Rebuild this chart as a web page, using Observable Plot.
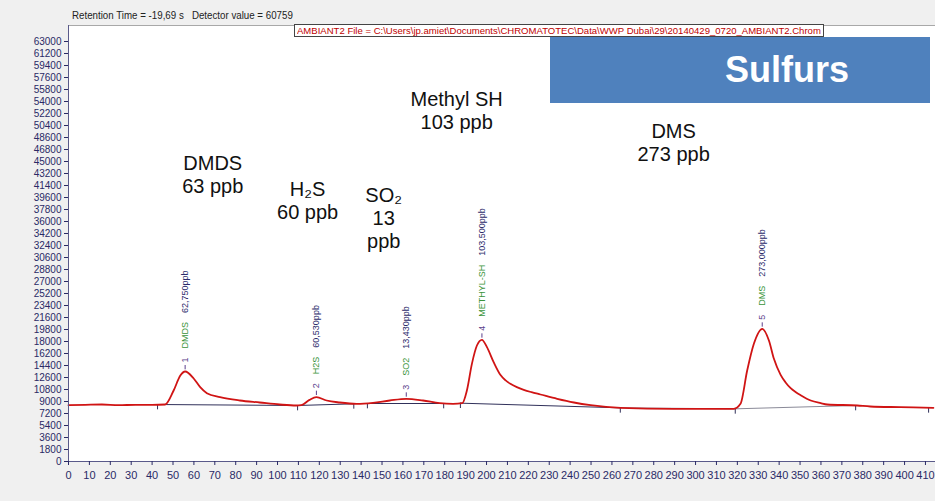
<!DOCTYPE html>
<html>
<head>
<meta charset="utf-8">
<script src="https://cdn.jsdelivr.net/npm/d3@7"></script>
<script src="https://cdn.jsdelivr.net/npm/@observablehq/plot@0.6"></script>
<style>
  html, body { margin: 0; padding: 0; background: #f0f0f0; }
  #wrap { position: relative; width: 935px; height: 501px; overflow: hidden; font-family: "Liberation Sans", Arial, sans-serif; }
  #chart { position: absolute; left: 0; top: 0; }
  .hdr { position: absolute; white-space: pre; transform-origin: left top; }
  #retention { left: 72px; top: 10.5px; font-size: 10px; line-height: 10px; color: #222; }
  #filebox { position: absolute; left: 294px; top: 24px; width: 528px; height: 11px; background: #fff; border: 1px solid #444; overflow: hidden; }
  #filetext { left: 2px; top: 1px; font-size: 9.5px; line-height: 9.5px; color: #c00000; }
  #sulfurs { position: absolute; left: 550px; top: 37px; width: 380px; height: 66px; background: #4f81bd; }
  #sulfurs span { position: absolute; left: 175px; top: 15px; font-size: 36px; line-height: 36px; font-weight: bold; color: #fff; white-space: pre; }
</style>
</head>
<body>
<div id="wrap">
  <div id="chart"></div>
  <div id="retention" class="hdr"></div>
  <div id="filebox"><div id="filetext" class="hdr"></div></div>
  <div id="sulfurs"><span></span></div>
</div>
<script>
// ---------- data ----------
const headerText = "Retention Time = -19,69 s   Detector value = 60759";
const fileText = "AMBIANT2 File = C:\\Users\\jp.amiet\\Documents\\CHROMATOTEC\\Data\\WWP Dubai\\29\\20140429_0720_AMBIANT2.Chrom";
const boxTitle = "Sulfurs";

// chromatogram trace (retention time s, detector value)
const traceTime = [0, 8, 16, 24, 32, 40, 46.2, 50.3, 53.5, 55.8, 59.9, 63, 66.2, 72.5, 82, 91.5, 101, 109,
  111.4, 115.3, 118.6, 123.5, 129.8, 137.8, 145.7, 153.7, 161.6, 169.6, 177.6, 184, 188.4,
  190.6, 193, 195.4, 197.8, 200.2, 203.4, 206.6, 209, 211.4, 214.5, 217.8, 221.5, 225.8, 233.8, 241.8, 249.8, 264.1, 289.6, 318.3,
  321.5, 324.7, 327.9, 331.9, 335.1, 337.5, 340.7, 343, 345.5, 348, 350.3, 355.1, 359.9, 363, 377.4, 383.6, 398, 413.8];
const traceSignal = [8450, 8500, 8550, 8450, 8500, 8500, 8550, 10650, 12900, 13500, 12450, 11150, 10250, 9650, 9150, 8850, 8550, 8400,
  8450, 9250, 9650, 9150, 8850, 8650, 8800, 9150, 9400, 9150, 8750, 8650, 8750,
  10650, 14650, 17400, 18250, 17150, 14900, 13000, 12200, 11650, 11150, 10750, 10400, 10050, 9400, 8850, 8450, 8050, 7900, 7900,
  8650, 13650, 17650, 19900, 18150, 15400, 13000, 11900, 11000, 10400, 9950, 9150, 8750, 8550, 8400, 8250, 8150, 8050];

// integrated peaks
const peakTime = [55.8, 118.6, 161.6, 197.8, 331.9];
const peakHeight = [13500, 9650, 9400, 18250, 19900];
const peakNumber = ["1", "2", "3", "4", "5"];
const peakName = ["DMDS", "H2S", "SO2", "METHYL-SH", "DMS"];
const peakAmount = ["62,750ppb", "60,530ppb", "13,430ppb", "103,500ppb", "273,000ppb"];

// integration baselines
const baseStartTime = [42.6, 109.6, 143, 187.5, 264, 319];
const baseStartValue = [8550, 8400, 8700, 8750, 8050, 7900];
const baseEndTime = [109.6, 136.5, 179.5, 264, 319, 376.6];
const baseEndValue = [8400, 8650, 8700, 8050, 7900, 8400];
// peak boundary markers
const markTime = [42.6, 109.6, 136.5, 143, 179.5, 187.5, 264, 319, 376.6, 411.5];
const markValue = [8550, 8400, 8650, 8700, 8700, 8750, 8050, 7900, 8400, 8050];

// callout annotations
const calloutText = ["DMDS\n63 ppb", "H₂S\n60 ppb", "SO₂\n13\nppb", "Methyl SH\n103 ppb", "DMS\n273 ppb"];

// axis ticks
const yTicks = d3.range(0, 63001, 1800);
const xTicks = d3.range(0, 411, 10);

// ---------- build ----------
const trace = traceTime.map((t, i) => ({t, v: traceSignal[i]}));
const peaks = peakTime.map((t, i) => ({t, v: peakHeight[i], num: peakNumber[i], name: peakName[i], amount: peakAmount[i]}));
const segs = baseStartTime.map((t, i) => ({t1: t, v1: baseStartValue[i], t2: baseEndTime[i], v2: baseEndValue[i], i}));
const marks = markTime.map((t, i) => ({t, v: markValue[i]}));

// callout anchor positions (centre x in seconds, last-line baseline in detector units)
const calloutPos = [[69.0, 40350], [114.4, 36450], [150.8, 32100], [185.7, 49950], [289.5, 45150]];
const callouts = calloutText.map((text, i) => ({text, t: calloutPos[i][0], v: calloutPos[i][1]}));

const FONT = "'Liberation Sans', Arial, sans-serif";
const ctx = document.createElement("canvas").getContext("2d");
ctx.font = `9px ${FONT}`;
const w = s => ctx.measureText(s).width;

const labelMarks = [];
peaks.forEach(p => {
  const d0 = -9;
  const d1 = d0 - w(p.num) - 9;
  const d2 = d1 - w(p.name) - 9;
  const common = {x: "t", y: "v", rotate: -90, textAnchor: "start", fontSize: 9};
  labelMarks.push(Plot.text([p], {...common, text: "num", dy: d0, fill: "#5b3f8c"}));
  labelMarks.push(Plot.text([p], {...common, text: "name", dy: d1, fill: "#3a943a"}));
  labelMarks.push(Plot.text([p], {...common, text: "amount", dy: d2, fill: "#2b2b6b"}));
});

const axisColor = "#2a2a66";
const chart = Plot.plot({
  width: 935, height: 501,
  marginLeft: 68, marginRight: 0, marginTop: 25, marginBottom: 40,
  x: {domain: [0, 414.8]},
  y: {domain: [0, 65400]},
  style: {background: "transparent", fontFamily: FONT, overflow: "hidden"},
  marks: [
    Plot.frame({fill: "white", stroke: "none"}),
    Plot.ruleY([65400], {stroke: "#a8a8a8"}),
    Plot.link(segs, {x1: "t1", y1: "v1", x2: "t2", y2: "v2", stroke: d => d.i < 4 ? "#30305a" : "#8a8a98", strokeWidth: 1}),
    Plot.ruleX(marks, {x: "t", y1: "v", y2: d => d.v - 800, stroke: "#30305a", strokeWidth: 1}),
    Plot.line(trace, {x: "t", y: "v", stroke: "#d01414", strokeWidth: 1.8, curve: "monotone-x"}),
    Plot.ruleX(peaks, {x: "t", y1: d => d.v + 250, y2: d => d.v + 900, stroke: "#5b3f8c", strokeWidth: 1}),
    ...labelMarks,
    Plot.text(callouts, {x: "t", y: "v", text: "text", fontSize: 20, lineHeight: 1.15, lineAnchor: "bottom", textAnchor: "middle", fill: "#111"}),
    Plot.ruleX([0], {stroke: "#5a5a8a"}),
    Plot.ruleY([0], {stroke: "#5a5a8a"}),
    Plot.axisY(yTicks, {tickSize: 4, tickPadding: 3, fontSize: 10, color: axisColor, tickFormat: d => `${d}`, label: null}),
    Plot.axisX(xTicks, {tickSize: 4, tickPadding: 6, fontSize: 11, color: axisColor, tickFormat: d => `${d}`, label: null})
  ]
});
document.getElementById("chart").appendChild(chart);

// header texts (squeezed to the reference widths)
function fit(el, text, font, target) {
  el.textContent = text;
  ctx.font = font;
  const k = target / ctx.measureText(text).width;
  el.style.transform = `scaleX(${k})`;
}
fit(document.getElementById("retention"), headerText, `10px ${FONT}`, 221);
fit(document.getElementById("filetext"), fileText, `9.5px ${FONT}`, 524);
document.querySelector("#sulfurs span").textContent = boxTitle;
</script>
</body>
</html>
